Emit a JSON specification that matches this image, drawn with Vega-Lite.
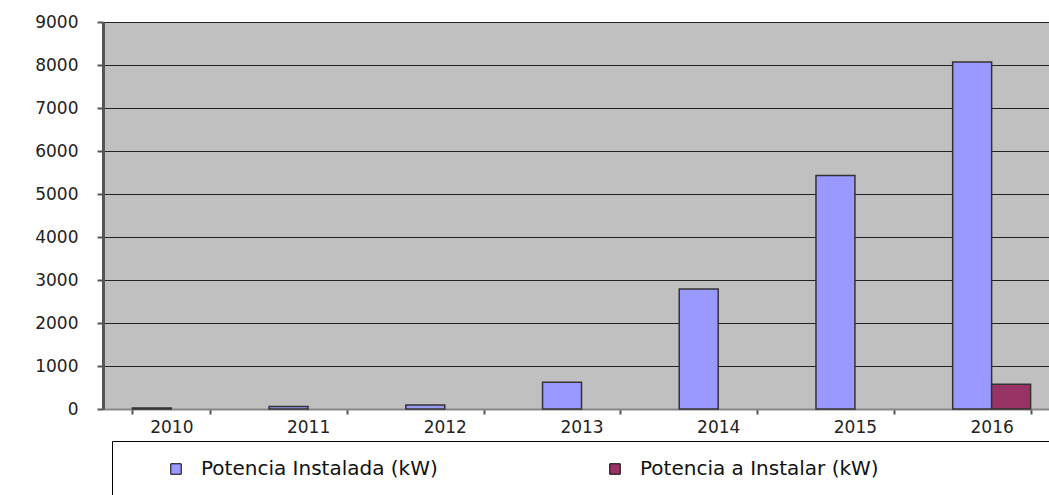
{
  "$schema": "https://vega.github.io/schema/vega-lite/v6.json",
  "width": 957,
  "height": 387,
  "autosize": {"type": "none"},
  "padding": {"left": 103, "top": 22, "right": 0, "bottom": 86},
  "background": "white",
  "config": {"view": {"fill": "#C0C0C0", "stroke": null}},
  "data": {
    "values": [
      {"year": "2010", "serie": "Potencia Instalada (kW)", "value": 25},
      {"year": "2011", "serie": "Potencia Instalada (kW)", "value": 60},
      {"year": "2012", "serie": "Potencia Instalada (kW)", "value": 95},
      {"year": "2013", "serie": "Potencia Instalada (kW)", "value": 620},
      {"year": "2014", "serie": "Potencia Instalada (kW)", "value": 2790},
      {"year": "2015", "serie": "Potencia Instalada (kW)", "value": 5430},
      {"year": "2016", "serie": "Potencia Instalada (kW)", "value": 8070},
      {"year": "2016", "serie": "Potencia a Instalar (kW)", "value": 575}
    ]
  },
  "mark": {"type": "bar", "stroke": "#333", "strokeWidth": 1.5},
  "encoding": {
    "x": {
      "field": "year",
      "type": "nominal",
      "scale": {"paddingInner": 0.43, "paddingOuter": 0.215},
      "axis": {
        "title": null,
        "labelAngle": 0,
        "tickBand": "extent",
        "domainColor": "#888",
        "domainWidth": 2,
        "tickColor": "#555",
        "tickSize": 5,
        "tickWidth": 2,
        "labelFontSize": 17,
        "labelFont": "DejaVu Sans",
        "labelColor": "#222",
        "labelPadding": 5
      }
    },
    "xOffset": {
      "field": "serie",
      "type": "nominal",
      "sort": ["Potencia Instalada (kW)", "Potencia a Instalar (kW)"]
    },
    "y": {
      "field": "value",
      "type": "quantitative",
      "scale": {"domain": [0, 9000], "nice": false},
      "axis": {
        "title": null,
        "values": [0, 1000, 2000, 3000, 4000, 5000, 6000, 7000, 8000, 9000],
        "format": "d",
        "grid": true,
        "gridColor": "#222",
        "gridWidth": 1,
        "domainColor": "#555",
        "domainWidth": 3,
        "tickColor": "#555",
        "tickSize": 6,
        "tickWidth": 2,
        "labelPadding": 19,
        "labelFontSize": 17,
        "labelFont": "DejaVu Sans",
        "labelColor": "#222"
      }
    },
    "color": {
      "field": "serie",
      "type": "nominal",
      "scale": {
        "domain": ["Potencia Instalada (kW)", "Potencia a Instalar (kW)"],
        "range": ["#9999FF", "#993366"]
      },
      "legend": {
        "title": "\u00a0",
        "titleOrient": "right",
        "titlePadding": 160,
        "titleFontSize": 4,
        "orient": "none",
        "legendX": 9,
        "legendY": 419,
        "direction": "horizontal",
        "fillColor": "white",
        "strokeColor": "#000",
        "padding": 18,
        "symbolType": "square",
        "symbolSize": 110,
        "symbolStrokeColor": "#000",
        "symbolStrokeWidth": 1,
        "symbolOpacity": 1,
        "symbolOffset": 36,
        "labelOffset": 15,
        "columnPadding": 131,
        "labelFontSize": 20,
        "labelFont": "DejaVu Sans",
        "labelColor": "#111",
        "labelLimit": 0
      }
    }
  }
}
